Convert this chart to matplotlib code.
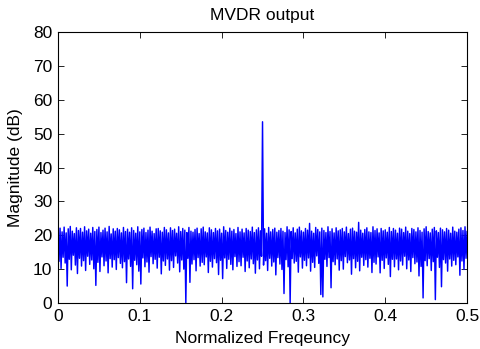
import numpy as np
import matplotlib
matplotlib.use("Agg")
import matplotlib.pyplot as plt

plt.rcParams['font.family'] = ['Liberation Sans', 'DejaVu Sans']

title = "MVDR output"
xlabel = "Normalized Freqeuncy"
ylabel = "Magnitude (dB)"
xticks = [0, 0.1, 0.2, 0.3, 0.4, 0.5]
xticklabels = ["0", "0.1", "0.2", "0.3", "0.4", "0.5"]
yticks = [0, 10, 20, 30, 40, 50, 60, 70, 80]

magnitude_db = [
    21.5, 12.3, 22.1, 10.2, 21.0, 13.5, 22.4, 11.8, 20.7, 5.0, 21.9, 12.9, 22.6, 9.8, 21.2, 14.1, 20.5, 11.2, 22.2, 8.7,
    21.4, 13.2, 22.0, 10.9, 20.9, 12.5, 22.5, 9.6, 21.3, 13.8, 21.8, 11.4, 20.6, 12.7, 22.3, 10.1, 21.1, 5.2, 21.7, 12.0,
    22.4, 9.3, 20.8, 13.6, 21.5, 11.0, 22.1, 12.4, 21.0, 8.9, 22.6, 13.1, 20.4, 10.6, 21.9, 12.8, 21.2, 9.9, 22.0, 13.4,
    21.6, 11.7, 20.7, 10.4, 22.3, 12.2, 21.1, 6.0, 21.8, 13.0, 20.9, 10.8, 22.2, 4.2, 21.4, 12.6, 20.6, 11.3, 22.5, 9.4,
    21.0, 5.6, 21.7, 13.3, 22.1, 10.7, 20.8, 12.1, 21.5, 9.1, 22.4, 13.7, 21.2, 11.6, 20.5, 12.9, 21.9, 10.3, 22.0, 13.5,
    21.3, 8.6, 20.9, 12.4, 22.3, 11.1, 21.6, 13.0, 20.7, 9.7, 22.2, 12.5, 21.4, 10.5, 21.8, 13.9, 20.6, 11.8, 22.5, 9.2,
    21.1, 12.7, 22.0, 10.0, 21.5, 0.0, 20.8, 13.2, 22.3, 6.1, 21.2, 11.5, 20.9, 12.8, 21.7, 9.5, 22.1, 13.4, 20.5, 10.9,
    21.9, 12.0, 22.4, 11.3, 21.0, 13.6, 20.7, 9.0, 22.2, 12.3, 21.6, 10.6, 20.8, 13.1, 22.0, 11.9, 21.3, 8.4, 21.8, 12.6,
    20.6, 7.2, 22.5, 13.3, 21.4, 10.2, 20.9, 12.9, 22.1, 11.4, 21.2, 9.8, 21.7, 13.7, 20.5, 10.8, 22.3, 12.2, 21.0, 11.0,
    21.8, 13.5, 20.7, 9.3, 22.0, 12.4, 21.5, 10.4, 21.1, 13.0, 22.4, 11.6, 20.8, 8.8, 21.6, 12.7, 22.2, 10.1, 21.3, 13.8,
    53.5, 11.2, 21.9, 12.5, 20.6, 9.6, 22.3, 13.2, 21.0, 10.9, 21.7, 12.1, 22.1, 8.3, 20.9, 13.4, 21.4, 11.5, 22.0, 9.9,
    21.2, 2.8, 20.8, 12.8, 22.5, 10.7, 21.6, 0.0, 21.1, 13.1, 22.2, 11.8, 20.7, 12.3, 21.8, 9.1, 22.4, 13.6, 21.3, 10.3,
    20.9, 12.6, 22.0, 11.0, 21.5, 13.3, 23.5, 9.4, 21.2, 12.0, 20.6, 10.5, 22.3, 13.9, 21.7, 11.7, 21.0, 2.5, 22.1, 1.8,
    21.4, 12.9, 20.8, 10.8, 22.5, 13.4, 21.1, 4.5, 21.9, 12.2, 20.7, 11.3, 22.2, 13.0, 21.3, 9.7, 21.6, 12.5, 22.0, 10.0,
    21.0, 13.7, 22.4, 11.9, 20.5, 12.7, 21.8, 8.5, 22.1, 13.1, 21.2, 10.4, 20.9, 12.3, 23.8, 9.5, 21.5, 13.5, 20.6, 11.1,
    21.7, 12.8, 22.2, 10.6, 21.0, 13.2, 20.8, 9.0, 22.5, 12.0, 21.4, 11.5, 21.9, 13.6, 20.7, 8.9, 22.0, 12.6, 21.3, 10.2,
    21.6, 13.3, 20.9, 11.4, 22.3, 7.8, 21.1, 12.9, 22.0, 10.7, 21.5, 13.0, 20.6, 9.8, 22.1, 12.4, 21.8, 11.2, 20.8, 13.8,
    22.4, 10.1, 21.2, 12.7, 20.5, 9.3, 22.0, 13.4, 21.7, 11.6, 21.0, 12.1, 22.2, 8.0, 21.4, 10.8, 20.9, 1.5, 21.9, 12.5,
    22.5, 11.0, 21.1, 13.1, 20.7, 9.6, 21.8, 12.2, 22.3, 1.0, 21.3, 13.5, 20.8, 10.5, 22.1, 4.8, 21.6, 12.8, 21.0, 11.8,
    22.0, 9.4, 21.5, 13.0, 20.6, 10.9, 22.4, 12.6, 21.2, 11.3, 20.9, 13.6, 21.8, 8.2, 22.2, 12.4, 21.4, 9.9, 22.5, 13.2,
    21.1,
]

freq = np.linspace(0, 0.5, len(magnitude_db))

fig = plt.figure(figsize=(4.81, 3.49), dpi=100)
ax = fig.add_axes([0.1206, 0.1318, 0.8504, 0.7765])
ax.plot(freq, magnitude_db, color=(0, 0, 1), linewidth=1.05)
ax.set_xlim(0, 0.5)
ax.set_ylim(0, 80)
ax.set_xticks(xticks)
ax.set_xticklabels(xticklabels)
ax.set_yticks(yticks)
ax.tick_params(direction='in', top=True, right=True, labelsize=12.5, length=4, width=0.6, pad=4)
for s in ax.spines.values():
    s.set_linewidth(0.8)
ax.set_title(title, fontsize=12.5, pad=9)
ax.set_xlabel(xlabel, fontsize=12.5, labelpad=5)
ax.set_ylabel(ylabel, fontsize=12.5, labelpad=7)
fig.savefig("out.png", dpi=100)
